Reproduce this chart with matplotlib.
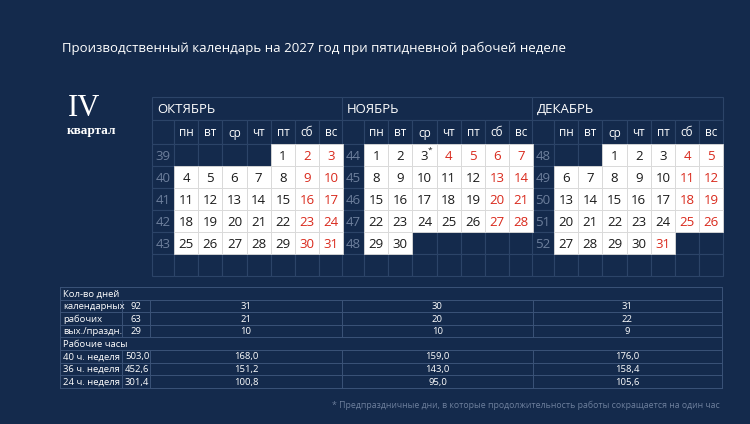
import matplotlib
matplotlib.use("Agg")
import matplotlib.pyplot as plt
from matplotlib.patches import Rectangle

months = ["ОКТЯБРЬ", "НОЯБРЬ", "ДЕКАБРЬ"]
first_weekday = [4, 0, 2]   # 0 = Monday
month_days = [31, 30, 31]
first_week = [39, 44, 48]
weekday_names = ["пн", "вт", "ср", "чт", "пт", "сб", "вс"]
red_days = [[2, 3, 9, 10, 16, 17, 23, 24, 30, 31],
            [4, 5, 6, 7, 13, 14, 20, 21, 27, 28],
            [4, 5, 11, 12, 18, 19, 25, 26, 31]]
preholiday = [[], [3], []]

row_labels = ["календарных", "рабочих", "вых./праздн."]
row_totals = ["92", "63", "29"]
row_months = [["31", "30", "31"], ["21", "20", "22"], ["10", "10", "9"]]
hour_labels = ["40 ч. неделя", "36 ч. неделя", "24 ч. неделя"]
hour_totals = ["503,0", "452,6", "301,4"]
hour_months = [["168,0", "159,0", "176,0"], ["151,2", "143,0", "158,4"], ["100,8", "95,0", "105,6"]]

BG = "#142a4c"
GRID = "#2c4468"
RED = "#d9291c"
W, H = 750, 424
fig = plt.figure(figsize=(7.5, 4.24), dpi=100, facecolor=BG)
ax = fig.add_axes([0, 0, 1, 1])
ax.set_xlim(0, W); ax.set_ylim(H, 0); ax.axis("off")
ax.set_facecolor(BG)
fam = ["Open Sans", "DejaVu Sans"]

ax.text(62, 48, "Производственный календарь на 2027 год при пятидневной рабочей неделе",
        color="white", fontsize=9.5, family=fam, va="center")
ax.text(84, 108, "IV", color="white", fontsize=22, family="Liberation Serif", ha="center", va="center")
ax.text(91, 131, "квартал", color="white", fontsize=9.5, family="Liberation Serif",
        fontweight="bold", ha="center", va="center")

mx = [152, 342, 532]
cw = 24.2
wkw = 22
y0 = 97
hh = 23
rh = 22
for m in range(3):
    x0 = mx[m]
    xd = x0 + wkw
    # header grid
    ax.add_patch(Rectangle((x0, y0), wkw + 7 * cw, hh, fc=BG, ec=GRID, lw=0.8))
    ax.text(x0 + 5, y0 + hh / 2 + 1, months[m], color="white", fontsize=9.5, family=fam, va="center")
    ax.add_patch(Rectangle((x0, y0 + hh), wkw, 24, fc=BG, ec=GRID, lw=0.8))
    for d in range(7):
        ax.add_patch(Rectangle((xd + d * cw, y0 + hh), cw, 24, fc=BG, ec=GRID, lw=0.8))
        ax.text(xd + d * cw + cw / 2, y0 + hh + 13, weekday_names[d], color="white",
                fontsize=8.5, family=fam, ha="center", va="center")
    yr = y0 + hh + 24
    for r in range(6):
        ax.add_patch(Rectangle((x0, yr + r * rh), wkw, rh, fc=BG, ec=GRID, lw=0.8))
        for d in range(7):
            ax.add_patch(Rectangle((xd + d * cw, yr + r * rh), cw, rh, fc=BG, ec=GRID, lw=0.8))
    nweeks = (first_weekday[m] + month_days[m] + 6) // 7
    for r in range(nweeks):
        ax.text(x0 + wkw / 2, yr + r * rh + rh / 2 + 1, str(first_week[m] + r), color="#6d7f9c",
                fontsize=9.5, family=fam, ha="center", va="center")
    for day in range(1, month_days[m] + 1):
        idx = first_weekday[m] + day - 1
        r, c = divmod(idx, 7)
        ax.add_patch(Rectangle((xd + c * cw, yr + r * rh), cw, rh, fc="white", ec="#d8d8d8", lw=0.6, zorder=2))
        col = RED if day in red_days[m] else "#1a1a1a"
        ax.text(xd + c * cw + cw / 2, yr + r * rh + rh / 2 + 1, str(day), color=col,
                fontsize=9.5, family=fam, ha="center", va="center", zorder=3)
        if day in preholiday[m]:
            ax.text(xd + c * cw + cw / 2 + 5, yr + r * rh + 6, "*", color="#1a1a1a",
                    fontsize=6, family=fam, ha="center", va="center", zorder=3)

# table
tx0, tx1 = 60, 722
cols = [60, 122, 150, 342, 533, 722]
ty = 287
tr = 12.6
fs = 6.8
lc = "#3b5378"
rows = 8
for i in range(rows + 1):
    ax.plot([tx0, tx1], [ty + i * tr, ty + i * tr], color=lc, lw=0.7)
ax.plot([tx0, tx0], [ty, ty + rows * tr], color=lc, lw=0.7)
ax.plot([tx1, tx1], [ty, ty + rows * tr], color=lc, lw=0.7)
def row_vlines(i):
    for x in cols[1:-1]:
        ax.plot([x, x], [ty + i * tr, ty + (i + 1) * tr], color=lc, lw=0.7)
def cell(i, c0, c1, s, ha="center"):
    x = (c0 + c1) / 2 if ha == "center" else c0 + 3
    ax.text(x, ty + i * tr + tr / 2 + 0.5, s, color="white", fontsize=fs, family=fam, ha=ha, va="center")
cell(0, 60, 0, "Кол-во дней", ha="left")
for k in range(3):
    i = 1 + k
    row_vlines(i)
    cell(i, cols[0], cols[1], row_labels[k], ha="left")
    cell(i, cols[1], cols[2], row_totals[k])
    for m in range(3):
        cell(i, cols[3 + m - 1], cols[3 + m], row_months[k][m])
cell(4, 60, 0, "Рабочие часы", ha="left")
for k in range(3):
    i = 5 + k
    row_vlines(i)
    cell(i, cols[0], cols[1], hour_labels[k], ha="left")
    cell(i, cols[1], cols[2], hour_totals[k], ha="left")
    for m in range(3):
        cell(i, cols[3 + m - 1], cols[3 + m], hour_months[k][m])

ax.text(720, 405, "* Предпраздничные дни, в которые продолжительность работы сокращается на один час",
        color="#6d7f9c", fontsize=6.3, family=fam, ha="right", va="center")

fig.savefig("out.png", dpi=100, facecolor=BG)
